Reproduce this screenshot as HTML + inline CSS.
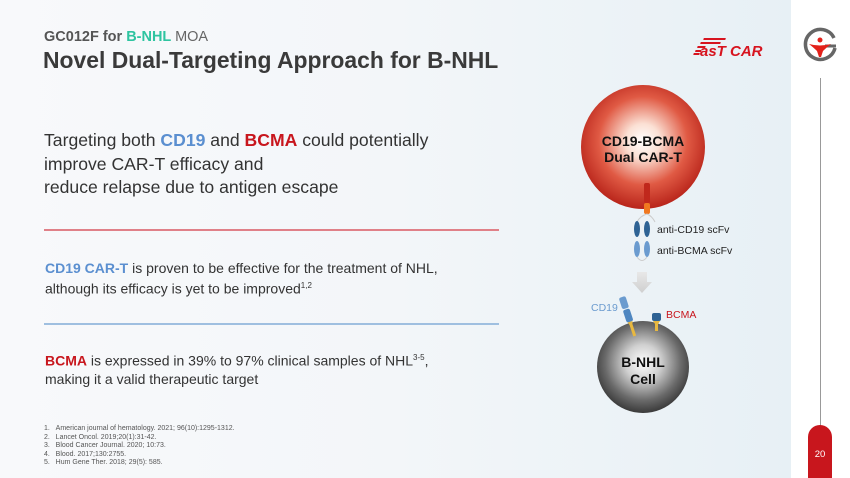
<!DOCTYPE html>
<html><head><meta charset="utf-8"><style>
html,body{margin:0;padding:0;}
body{width:850px;height:478px;position:relative;overflow:hidden;background:#fff;font-family:"Liberation Sans",Arial,sans-serif;}
.panel{position:absolute;left:0;top:0;width:791px;height:478px;background:linear-gradient(90deg,#f8f9fb 0%,#f3f6f9 50%,#e7f0f5 100%);}
.t{position:absolute;white-space:nowrap;color:#333;}
</style></head><body>
<div class="panel"></div>
<div class="t" style="left:44px;top:29px;font-size:14.5px;font-weight:bold;color:#555;">GC012F for <span style="color:#2ec4a0">B-NHL</span> <span style="font-weight:normal;color:#666">MOA</span></div>
<div class="t" style="left:43px;top:47px;font-size:22.9px;font-weight:bold;color:#3a3a3a;">Novel Dual-Targeting Approach for B-NHL</div>

<div class="t" style="left:44px;top:129px;font-size:17.6px;line-height:23.5px;color:#333;">Targeting both <b style="color:#5b8fd0">CD19</b> and <b style="color:#c8161d">BCMA</b> could potentially<br>improve CAR-T efficacy and<br>reduce relapse due to antigen escape</div>
<div style="position:absolute;left:44px;top:229px;width:455px;height:2px;background:#e08088"></div>
<div class="t" style="left:45px;top:259px;font-size:14px;line-height:18px;color:#333;"><b style="color:#5b8fd0">CD19 CAR-T</b> is proven to be effective for the treatment of NHL,<br>although its efficacy is yet to be improved<sup style="font-size:8px">1,2</sup></div>
<div style="position:absolute;left:44px;top:323px;width:455px;height:2px;background:#9fbfe0"></div>
<div class="t" style="left:45px;top:349px;font-size:14px;line-height:18px;color:#333;"><b style="color:#c8161d">BCMA</b> is expressed in 39% to 97% clinical samples of NHL<sup style="font-size:8px">3-5</sup>,<br>making it a valid therapeutic target</div>

<div class="t" style="left:44px;top:425px;font-size:7px;line-height:8.6px;color:#555;">1.&nbsp;&nbsp;&nbsp;American journal of hematology. 2021; 96(10):1295-1312.<br>2.&nbsp;&nbsp;&nbsp;Lancet Oncol. 2019;20(1):31-42.<br>3.&nbsp;&nbsp;&nbsp;Blood Cancer Journal. 2020; 10:73.<br>4.&nbsp;&nbsp;&nbsp;Blood. 2017;130:2755.<br>5.&nbsp;&nbsp;&nbsp;Hum Gene Ther. 2018; 29(5): 585.</div>

<svg style="position:absolute;left:0;top:0" width="850" height="478">
<defs>
<radialGradient id="rg" cx="50%" cy="45%" r="55%"><stop offset="0" stop-color="#fff"/><stop offset="0.25" stop-color="#fbe0d4"/><stop offset="0.65" stop-color="#e05a44"/><stop offset="1" stop-color="#b8241a"/></radialGradient>
<radialGradient id="gg" cx="50%" cy="45%" r="55%"><stop offset="0" stop-color="#fff"/><stop offset="0.35" stop-color="#d0d0d0"/><stop offset="0.75" stop-color="#6a6a6a"/><stop offset="1" stop-color="#3a3a3a"/></radialGradient>
<linearGradient id="ar" x1="0" y1="0" x2="0" y2="1"><stop offset="0" stop-color="#e8e8e8"/><stop offset="1" stop-color="#cfcfcf"/></linearGradient>
</defs>
<circle cx="643" cy="147" r="62" fill="url(#rg)"/>
<text x="643" y="146" text-anchor="middle" font-size="14" font-weight="bold" fill="#111">CD19-BCMA</text>
<text x="643" y="162" text-anchor="middle" font-size="14" font-weight="bold" fill="#111">Dual CAR-T</text>
<rect x="644" y="183" width="6" height="20" rx="2" fill="#c0281c"/>
<rect x="644" y="203" width="6" height="11" rx="2" fill="#f07820"/>
<path d="M647 214 Q640 216 637 222 M647 214 Q652 216 655 222" stroke="#ccc" fill="none"/>
<ellipse cx="637" cy="229" rx="3" ry="8" fill="#2f6394"/>
<ellipse cx="647" cy="229" rx="3" ry="8" fill="#2f6394"/>
<ellipse cx="637" cy="249" rx="3" ry="8" fill="#6b9bcf"/>
<ellipse cx="647" cy="249" rx="3" ry="8" fill="#6b9bcf"/>
<path d="M637 257 Q642 264 647 257" stroke="#ccc" fill="none"/>
<text x="657" y="233" font-size="10.5" fill="#222">anti-CD19 scFv</text>
<text x="657" y="254" font-size="10.5" fill="#222">anti-BCMA scFv</text>
<path d="M637 272 h10 v10 h5 l-10 11 l-10 -11 h5z" fill="url(#ar)"/>
<circle cx="643" cy="367" r="46" fill="url(#gg)"/>
<text x="643" y="367" text-anchor="middle" font-size="14" font-weight="bold" fill="#111">B-NHL</text>
<text x="643" y="384" text-anchor="middle" font-size="14" font-weight="bold" fill="#111">Cell</text>
<g transform="rotate(-18 629 320)">
<rect x="626" y="296" width="7" height="12" rx="2" fill="#6b9bcf"/>
<rect x="626" y="309" width="7" height="13" rx="2" fill="#4f86c0"/>
<path d="M627 322 h5 l-1 3 v12 h-3 v-12z" fill="#e8b840"/>
</g>
<rect x="652" y="313" width="9" height="8" rx="2" fill="#2f6394"/>
<path d="M653 321 h7 l-2 3 v7 h-3 v-7z" fill="#e8b840"/>
<text x="591" y="311" font-size="10.5" fill="#6b9bcf">CD19</text>
<text x="666" y="318" font-size="10.5" fill="#c8161d">BCMA</text>
<!-- FasT CAR logo -->
<g fill="#d7141f" transform="translate(-8,0) skewX(-15)">
<rect x="722" y="38" width="22" height="2"/><rect x="720" y="42" width="20" height="2"/><rect x="718" y="46" width="8" height="2"/><rect x="717" y="50" width="6" height="2"/><rect x="716" y="53" width="6" height="2"/>
</g>
<text x="700" y="56" font-size="15" font-weight="bold" font-style="italic" fill="#d7141f">asT CAR</text>
<!-- right logo -->
<path d="M834 38 A15 15 0 1 0 835 48" stroke="#666" stroke-width="3.5" fill="none"/>
<line x1="825" y1="46" x2="836" y2="46" stroke="#666" stroke-width="3"/>
<circle cx="820" cy="40" r="2.5" fill="#e3211a"/>
<path d="M809 44 Q820 47 831 44 Q826 48 823 51 L821 57 L819 57 L817 51 Q814 48 809 44z" fill="#e3211a"/>
<line x1="820.5" y1="78" x2="820.5" y2="426" stroke="#999" stroke-width="1"/>
<path d="M808 478 V437 A12 12 0 0 1 832 437 V478z" fill="#c8161d"/>
<text x="820" y="457" text-anchor="middle" font-size="9.5" fill="#fff">20</text>
</svg>
</body></html>
